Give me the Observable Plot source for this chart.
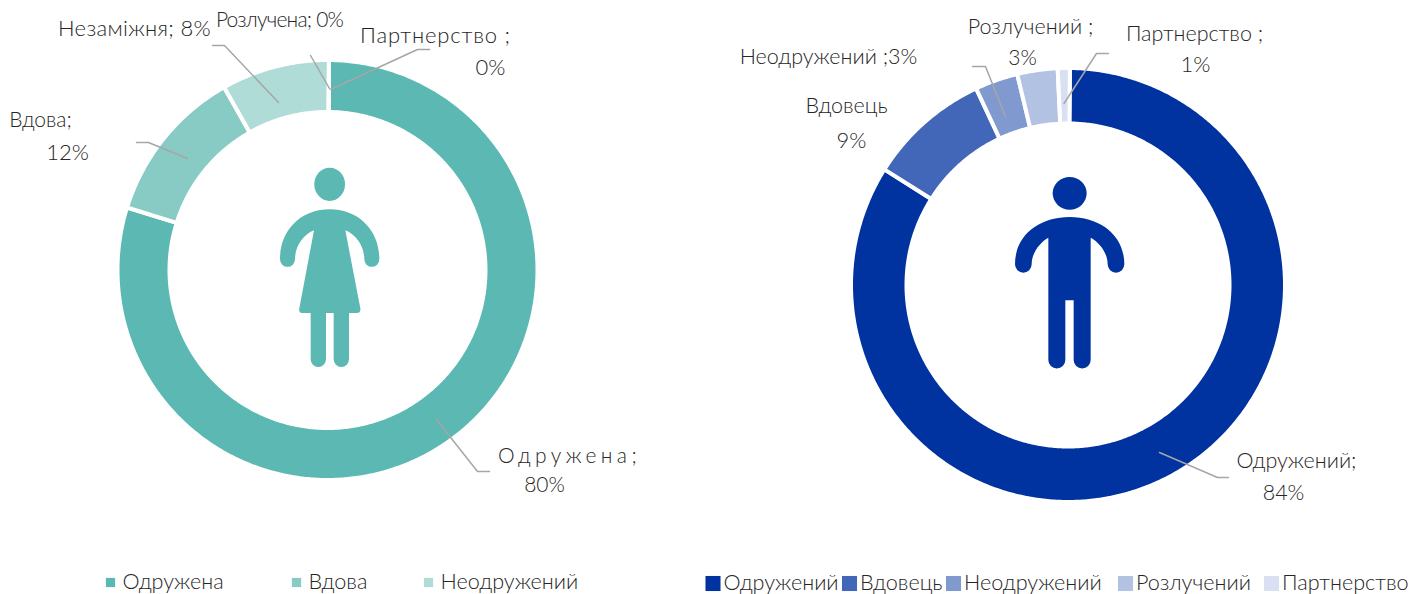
<!DOCTYPE html>
<html lang="uk">
<head>
<meta charset="utf-8">
<script src="https://cdn.jsdelivr.net/npm/d3@7"></script>
<script src="https://cdn.jsdelivr.net/npm/@observablehq/plot@0.6"></script>
<style>html,body{margin:0;padding:0;background:#fff}svg{display:block}</style>
</head>
<body>
<div id="chart"></div>
<script>
// Data
const femaleCategories = ["Одружена", "Вдова", "Незаміжня", "Розлучена", "Партнерство"];
const femaleValues = [79.7, 12, 8.3, 0, 0];
const femaleColors = ["#5cb8b2", "#88cbc5", "#b0dcd8", "#c9e6e3", "#e0f1ef"];
const maleCategories = ["Одружений", "Вдовець", "Неодружений", "Розлучений", "Партнерство"];
const maleValues = [83.8, 9.1, 3.2, 3, 0.9];
const maleColors = ["#0033a0", "#4267b8", "#809acf", "#b2c2e3", "#d9e0f1"];

const femaleLegend = ["Одружена", "Вдова", "Неодружений"];
const femaleLegendColors = ["#5cb8b2", "#88cbc5", "#b0dcd8"];
const femaleLegendX = [110, 296, 428];
const maleLegend = ["Одружений", "Вдовець", "Неодружений", "Розлучений", "Партнерство"];
const maleLegendX = [712.5, 849, 953, 1125, 1271];

// Data labels: text, centre x, centre y, font size, letter spacing
const labelRows = [
  ["Незаміжня; 8%", 134, 28, 22, 0.3], ["Розлучена; 0%", 279, 20, 21, -0.8],
  ["Партнерство ;", 435, 35, 22, 0.8], ["0%", 490, 67, 22, 0],
  ["Вдова;", 40, 120, 21, 0], ["12%", 67, 152, 22, 0],
  ["Одружена;", 569, 456, 21, 4.4], ["80%", 544, 485, 21, 0],
  ["Неодружений ;3%", 828, 57, 21.5, 0],
  ["Розлучений ;", 1030, 27, 21.5, 0], ["3%", 1022, 58, 21, 0],
  ["Партнерство ;", 1194, 34, 21.5, 0], ["1%", 1195, 64, 22, 0],
  ["Вдовець", 846, 106, 21.5, 0], ["9%", 851, 140, 22, 0],
  ["Одружений;", 1296, 461, 21.5, 0], ["84%", 1283, 493, 21.5, 0]
];

// Leader lines
const leaders = [
  [[212,45],[224,45],[278,102]],
  [[310,55],[329,88]],
  [[429,49],[417,49],[330,89]],
  [[136,142],[148,142],[187,158]],
  [[489,471],[477,471],[436,419]],
  [[972,66],[985,66],[1005,116]],
  [[1108,53],[1096,53],[1063.5,103]],
  [[1228,477],[1217,477],[1159,452]]
];

function ring(values, colors, cx, cy, rOuter, rInner, start) {
  const total = d3.sum(values);
  const rows = [];
  let acc = 0;
  values.forEach((v, i) => {
    const a0 = start + acc / total * 2 * Math.PI;
    acc += v;
    const a1 = start + acc / total * 2 * Math.PI;
    const n = Math.max(2, Math.ceil((a1 - a0) / 0.01));
    for (let k = 0; k <= n; k++) {
      const a = a0 + (a1 - a0) * k / n;
      rows.push({
        key: cx + "-" + i, color: colors[i],
        x1: cx + rOuter * Math.sin(a), y1: cy - rOuter * Math.cos(a),
        x2: cx + rInner * Math.sin(a), y2: cy - rInner * Math.cos(a)
      });
    }
  });
  return rows;
}

const deg = Math.PI / 180;
const rows = [
  ...ring(femaleValues, femaleColors, 327.5, 270, 210, 158, 0.4 * deg),
  ...ring(maleValues, maleColors, 1068, 285, 217, 161.5, 0.5 * deg)
];

const womanBody = "M209,148C290,148 358,205 358,298A22.5,22.5 0 0 1 313,298C313,260 290,225 256,211L301,445Q303,459 290,459L267,459L267,598A23,23 0 0 1 221,598L221,459L198,459L198,598A23,23 0 0 1 152,598L152,459L128,459Q115,459 118,445L162,211C128,225 105,260 105,298A22.5,22.5 0 0 1 60,298C60,205 128,148 209,148Z";
const manBody = "M209,141C300,141 373,195 373,283A25,25 0 0 1 323,283C323,250 300,218 272,203L272,570A25.5,25.5 0 0 1 221,570L221,391L196,391L196,570A25.5,25.5 0 0 1 145,570L145,203C118,218 95,250 95,283A25,25 0 0 1 45,283C45,195 118,141 209,141Z";

function icon(body, head, color, ox, oy) {
  return () => {
    const g = d3.create("svg:g").attr("transform", `translate(${ox},${oy}) scale(${1/3})`).attr("fill", color);
    g.append("ellipse").attr("cx", head[0]).attr("cy", head[1]).attr("rx", head[2]).attr("ry", head[3]);
    g.append("path").attr("d", body);
    return g.node();
  };
}

const font = "Lato, 'Noto Sans', sans-serif";
const textColor = "#262626";

const legendRows = [
  ...femaleLegend.map((t, i) => ({t, x: femaleLegendX[i], c: femaleLegendColors[i], tx: femaleLegendX[i] + 12, y: 582, r: 5.2})),
  ...maleLegend.map((t, i) => ({t, x: maleLegendX[i], c: maleColors[i], tx: maleLegendX[i] + 10.5, y: 583, r: 8.5}))
];

const spaced = px => (index, scales, values, dims, context, next) => {
  const g = next(index, scales, values, dims, context);
  if (px) d3.select(g).selectAll("text").attr("letter-spacing", px);
  return g;
};

const plot = Plot.plot({
  width: 1410, height: 594,
  margin: 0,
  x: {domain: [0, 1410], range: [0, 1410], axis: null},
  y: {domain: [0, 594], range: [0, 594], axis: null},
  r: {type: "identity"},
  style: {fontFamily: font, background: "#fff"},
  marks: [
    Plot.area(rows, {x1: "x1", y1: "y1", x2: "x2", y2: "y2", z: "key", fill: "color", stroke: "#fff", strokeWidth: 4}),
    icon(womanBody, [209, 73, 46, 50], "#5cb8b2", 260, 160),
    icon(manBody, [209, 70, 51, 49], "#0033a0", 1000, 170),
    ...leaders.map(l => Plot.line(l, {x: d => d[0], y: d => d[1], stroke: "#a6a6a6", strokeWidth: 1.5, curve: "linear"})),
    ...labelRows.map(row => Plot.text([row], {x: d => d[1], y: d => d[2], text: d => d[0], fontSize: row[3], fontWeight: 300, fill: textColor, fontFamily: font, textAnchor: "middle", lineAnchor: "middle", render: spaced(row[4])})),
    Plot.dot(legendRows, {x: "x", y: "y", r: "r", symbol: "square", fill: "c"}),
    Plot.text(legendRows, {x: "tx", y: "y", text: "t", fontSize: 21.6, fontWeight: 300, fill: textColor, fontFamily: font, textAnchor: "start", lineAnchor: "middle"})
  ]
});
document.getElementById("chart").append(plot);
</script>
</body>
</html>
